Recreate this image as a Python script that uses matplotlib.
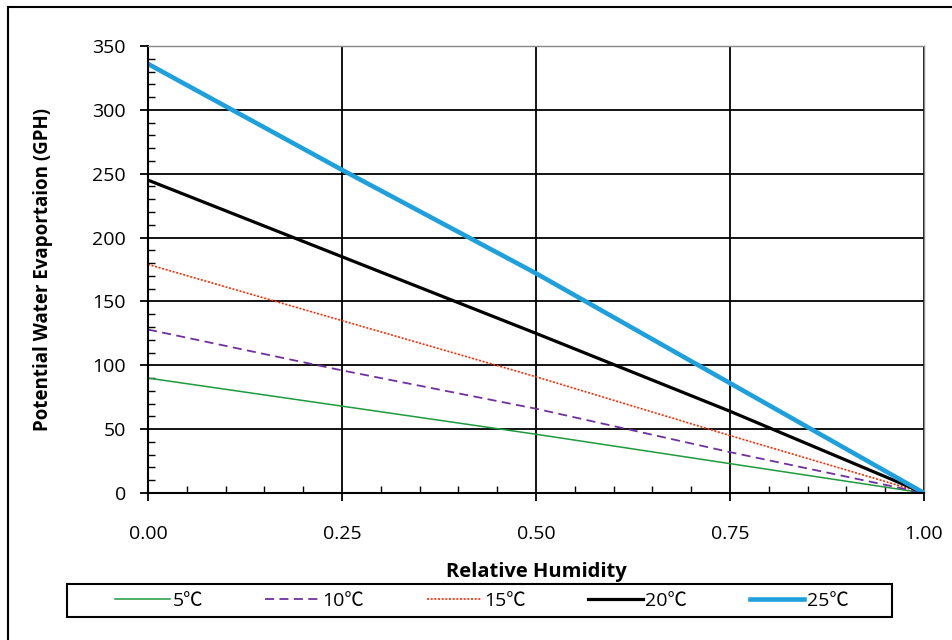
import numpy as np
import matplotlib
matplotlib.use("Agg")
import matplotlib.pyplot as plt
from matplotlib.lines import Line2D
from matplotlib.patches import Rectangle
from matplotlib.ticker import MultipleLocator, FormatStrFormatter

plt.rcParams["font.family"] = ["Open Sans", "Noto Sans CJK SC", "DejaVu Sans"]

# Data
humidity = [0.0, 0.25, 0.5, 0.75, 1.0]
evap_5c = [90, 68, 46, 23, 0]
evap_10c = [128, 96, 66, 32, 0]
evap_15c = [179, 135, 91, 45, 0]
evap_20c = [245, 185, 125, 64, 0]
evap_25c = [336, 253, 172, 86, 0]
labels = ["5\u2103", "10\u2103", "15\u2103", "20\u2103", "25\u2103"]

W, H = 952, 640
fig = plt.figure(figsize=(W / 100, H / 100), dpi=100)
ax = fig.add_axes([148 / W, 1 - 493 / H, (924 - 148) / W, (493 - 46) / H])

ax.plot(humidity, evap_5c, color="#1f9a3c", lw=1.1, label=labels[0])
ax.plot(humidity, evap_10c, color="#7030a0", lw=1.3, ls=(0, (5, 3)), label=labels[1])
ax.plot(humidity, evap_15c, color="#ff2a00", lw=1.2, ls=(0, (1.2, 1)), label=labels[2])
ax.plot(humidity, evap_20c, color="black", lw=2.3, label=labels[3])
ax.plot(humidity, evap_25c, color="#1ea0dc", lw=3.3, label=labels[4])

ax.set_xlim(0, 1)
ax.set_ylim(0, 350)
ax.xaxis.set_major_locator(MultipleLocator(0.25))
ax.xaxis.set_minor_locator(MultipleLocator(0.05))
ax.xaxis.set_major_formatter(FormatStrFormatter("%.2f"))
ax.yaxis.set_major_locator(MultipleLocator(50))
ax.yaxis.set_minor_locator(MultipleLocator(10))

ax.grid(True, which="major", color="black", lw=1.3)
ax.set_axisbelow(True)

for s in ["left", "bottom"]:
    ax.spines[s].set_linewidth(1.5)
    ax.spines[s].set_color("black")
for s in ["top", "right"]:
    ax.spines[s].set_linewidth(1.0)
    ax.spines[s].set_color("#888888")

ax.tick_params(which="major", direction="out", length=6, width=1.3, labelsize=14, colors="black")
ax.tick_params(axis="y", which="major", pad=10)
ax.tick_params(axis="x", which="major", pad=17)
ax.tick_params(which="minor", direction="in", length=5, width=1.0)

ax.set_xlabel("Relative Humidity", fontsize=14.5, fontweight="bold")
ax.set_ylabel("Potential Water Evaportaion (GPH)", fontsize=13.5, fontweight="bold")
ax.xaxis.set_label_coords(0.5, (493 - 562) / 447)
ax.yaxis.set_label_coords((53 - 148) / 776, 0.5)

# legend box drawn separately, entries centred inside it
fig.add_artist(Rectangle((67 / W, 1 - 617 / H), (892 - 67) / W, 33 / H,
                         transform=fig.transFigure, fill=False, edgecolor="black", lw=1.5))
leg = fig.legend(
    loc="center",
    bbox_to_anchor=(482 / W, 1 - 600.5 / H),
    ncol=5,
    fontsize=14,
    frameon=False,
    handlelength=2.8,
    handletextpad=0.15,
    columnspacing=3.2,
)

# outer border (top and left edges visible)
fig.add_artist(Line2D([8 / W, 8 / W], [0, 1 - 7 / H], transform=fig.transFigure, color="black", lw=1.5))
fig.add_artist(Line2D([8 / W, 1], [1 - 7 / H, 1 - 7 / H], transform=fig.transFigure, color="black", lw=1.5))

fig.savefig("out.png", dpi=100)
